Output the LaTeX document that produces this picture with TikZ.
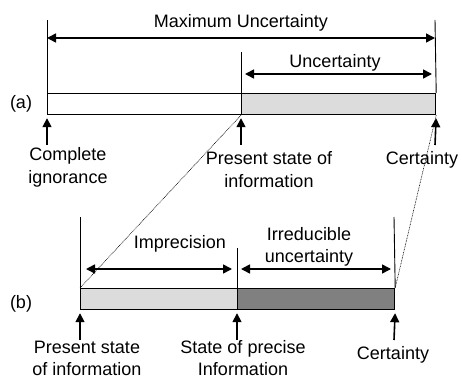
\documentclass[tikz,border=0pt]{standalone}
\usepackage{fontspec}
\setmainfont{Liberation Sans}
\usetikzlibrary{arrows.meta,positioning}
\definecolor{barlight}{HTML}{DCDCDC}
\definecolor{bardark}{HTML}{808080}
\tikzset{
seg/.style={draw,line width=1.2pt,anchor=north west,minimum height=21pt,inner sep=0pt},
txt/.style={font=\fontsize{18}{22}\selectfont,align=center,inner sep=0pt,anchor=base},
tick/.style={line width=0.9pt},
span/.style={{Triangle[length=9pt,width=9pt]}-{Triangle[length=9pt,width=9pt]},line width=1.6pt},
point/.style={-{Triangle[length=9pt,width=9pt]},line width=1.6pt,shorten >=3pt},
guide/.style={line width=0.6pt,dash pattern=on 0.8pt off 0.8pt}
}
\begin{document}
\begin{tikzpicture}[x=1pt,y=-1pt]
\useasboundingbox (0,0) rectangle (462,379);
% bar (a)
\node[seg,minimum width=194pt] (a1) at (47,93) {};
\node[seg,minimum width=194pt,fill=barlight] (a2) at (241,93) {};
\node[txt] (albl) at (21,109) {(a)};
\coordinate (ta0) at (47,20);
\coordinate (ta1) at (241,52);
\coordinate (ta2) at (435,20);
\draw[tick] (a1.north west) -- (ta0);
\draw[tick] (a2.north west) -- (ta1);
\draw[tick] (a2.north east) -- (ta2);
\coordinate (ma0) at (47,38);
\coordinate (ma1) at (435,38);
\draw[span] (ma0) -- (ma1);
\node[txt] (maxlbl) at (241,28) {Maximum Uncertainty};
\coordinate (ua0) at (245,74);
\coordinate (ua1) at (432,74);
\draw[span] (ua0) -- (ua1);
\node[txt] (unclbl) at (335,68) {Uncertainty};
% pointers under (a)
\coordinate (pa0) at (47,145);
\coordinate (pa1) at (241,145);
\coordinate (pa2) at (435,145);
\draw[point] (pa0) -- (a1.south west);
\draw[point] (pa1) -- (a2.south west);
\draw[point] (pa2) -- (a2.south east);
\node[txt] (ignlbl) at (68,183) {Complete\\ignorance};
\node[txt] (prslbl) at (269,187) {Present state of\\information};
\node[txt] (cerlbl) at (422,165) {Certainty};
% bar (b)
\node[seg,minimum width=157pt,fill=barlight] (b1) at (80,288) {};
\node[seg,minimum width=157pt,fill=bardark] (b2) at (237,288) {};
\node[txt] (blbl) at (21,308) {(b)};
\coordinate (tb0) at (80,217);
\coordinate (tb1) at (237,248);
\coordinate (tb2) at (394,217);
\draw[tick] (b1.north west) -- (tb0);
\draw[tick] (b2.north west) -- (tb1);
\draw[tick] (b2.north east) -- (tb2);
\coordinate (ia0) at (86,269);
\coordinate (ia1) at (232,269);
\draw[span] (ia0) -- (ia1);
\node[txt] (implbl) at (180,248) {Imprecision};
\coordinate (ra0) at (241,269);
\coordinate (ra1) at (391,269);
\draw[span] (ra0) -- (ra1);
\node[txt] (irrlbl) at (309,262) {Irreducible\\uncertainty};
% pointers under (b)
\coordinate (pb0) at (80,340);
\coordinate (pb1) at (237,340);
\coordinate (pb2) at (394,340);
\draw[point] (pb0) -- (b1.south west);
\draw[point] (pb1) -- (b2.south west);
\draw[point] (pb2) -- (b2.south east);
\node[txt] (prblbl) at (87,375) {Present state\\of information};
\node[txt] (prclbl) at (243,375) {State of precise\\Information};
\node[txt] (cbrlbl) at (393,359) {Certainty};
% zoom guides
\draw[guide] (a2.south west) -- (b1.north west);
\draw[guide] (a2.south east) -- (b2.north east);
\end{tikzpicture}
\end{document}
